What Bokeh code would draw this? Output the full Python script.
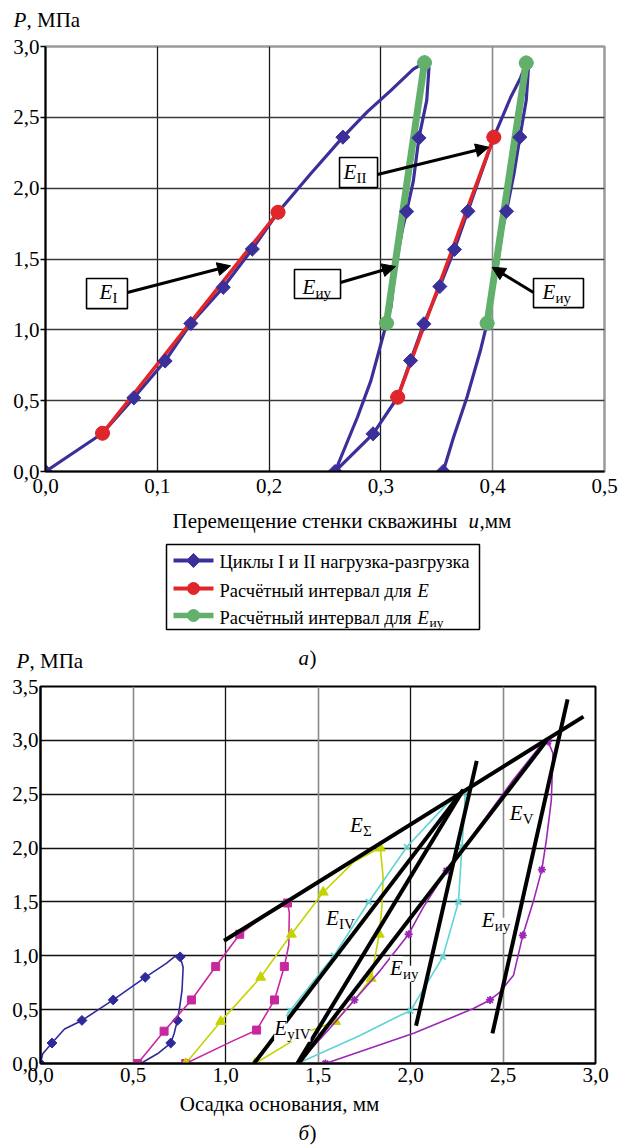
import numpy as np
from bokeh.plotting import figure
from bokeh.models import (Range1d, FixedTicker, Grid, Label, Arrow, NormalHead,
                          CustomJSTickFormatter)
from bokeh.layouts import column
from bokeh.embed import file_html
from bokeh.resources import INLINE

SERIF = "Liberation Serif"

# ================= Chart a) : borehole wall displacement =================
# full path of cycles I and II (loading / unloading), u in mm, P in MPa
cyc_u = [0, 0.051, 0.079, 0.107, 0.130, 0.159, 0.185, 0.208, 0.237, 0.266, 0.288, 0.309, 0.329, 0.339,
         0.343, 0.341, 0.334, 0.329, 0.323, 0.319, 0.313, 0.309, 0.305, 0.300, 0.291, 0.279, 0.259,
         0.293, 0.315, 0.3265, 0.3384, 0.3527, 0.3658, 0.3778, 0.401, 0.416, 0.425, 0.430,
         0.432, 0.430, 0.4243, 0.419, 0.4123, 0.4085, 0.404, 0.395, 0.389, 0.377, 0.365, 0.3557]
cyc_p = [0, 0.27, 0.52, 0.78, 1.045, 1.30, 1.57, 1.83, 2.10, 2.36, 2.54, 2.69, 2.84, 2.886,
         2.85, 2.62, 2.355, 2.05, 1.835, 1.70, 1.44, 1.16, 1.047, 0.90, 0.64, 0.383, 0.0,
         0.266, 0.524, 0.783, 1.042, 1.306, 1.567, 1.837, 2.36, 2.64, 2.78, 2.884,
         2.85, 2.62, 2.36, 2.10, 1.837, 1.70, 1.44, 1.047, 0.854, 0.524, 0.242, 0.0]
# measured points (diamond markers)
pts_u = [0, 0.051, 0.079, 0.107, 0.130, 0.159, 0.185, 0.208, 0.266, 0.339,
         0.334, 0.323, 0.305, 0.259,
         0.293, 0.315, 0.3265, 0.3384, 0.3527, 0.3658, 0.3778, 0.401, 0.430,
         0.4243, 0.4123, 0.395, 0.3557]
pts_p = [0, 0.27, 0.52, 0.78, 1.045, 1.30, 1.57, 1.83, 2.36, 2.886,
         2.355, 1.835, 1.047, 0.0,
         0.266, 0.524, 0.783, 1.042, 1.306, 1.567, 1.837, 2.36, 2.884,
         2.36, 1.837, 1.047, 0.0]
# calculation interval for E (cycle I and cycle II)
e1_u = [0.051, 0.208]
e1_p = [0.27, 1.83]
e2_u = [0.315, 0.401]
e2_p = [0.524, 2.36]
# calculation interval for E_iu (two unloading branches)
eiu1_u = [0.305, 0.339]
eiu1_p = [1.047, 2.886]
eiu2_u = [0.395, 0.430]
eiu2_p = [1.047, 2.884]

a_xticks = [0, 0.1, 0.2, 0.3, 0.4, 0.5]
a_yticks = [0, 0.5, 1.0, 1.5, 2.0, 2.5, 3.0]

# ================= Chart b) : foundation settlement =================
c1_x = [0, 0.012, 0.062, 0.13, 0.224, 0.393, 0.566, 0.68, 0.735, 0.755, 0.771, 0.765, 0.752, 0.740, 0.722, 0.704, 0.632, 0.542]
c1_y = [0, 0.09, 0.19, 0.32, 0.40, 0.59, 0.80, 0.93, 1.005, 0.99, 0.894, 0.678, 0.52, 0.40, 0.276, 0.19, 0.09, 0.0]
c1_mx = [0, 0.062, 0.224, 0.393, 0.566, 0.755, 0.740, 0.704]
c1_my = [0, 0.19, 0.40, 0.59, 0.80, 0.99, 0.40, 0.19]

c2_x = [0.525, 0.668, 0.816, 0.947, 1.077, 1.20, 1.335, 1.345, 1.342, 1.318, 1.265, 1.168, 1.04, 0.785]
c2_y = [0, 0.30, 0.59, 0.90, 1.20, 1.36, 1.49, 1.40, 1.10, 0.90, 0.59, 0.31, 0.21, 0]
c2_mx = [0.525, 0.668, 0.816, 0.947, 1.077, 1.335, 1.318, 1.265, 1.168, 0.785]
c2_my = [0, 0.30, 0.59, 0.90, 1.20, 1.49, 0.90, 0.59, 0.31, 0]

c3_x = [0.785, 0.974, 1.19, 1.356, 1.528, 1.692, 1.80, 1.837, 1.852, 1.845, 1.831, 1.787, 1.71, 1.595, 1.45, 1.16]
c3_y = [0, 0.39, 0.80, 1.20, 1.59, 1.87, 1.97, 2.0, 1.73, 1.45, 1.20, 0.79, 0.62, 0.39, 0.30, 0]
c3_mx = [0.785, 0.974, 1.19, 1.356, 1.528, 1.837, 1.831, 1.787, 1.595, 1.16]
c3_my = [0, 0.39, 0.80, 1.20, 1.59, 2.0, 1.20, 0.79, 0.39, 0]

c4_x = [1.16, 1.349, 1.586, 1.774, 1.98, 2.197, 2.296, 2.29, 2.278, 2.259, 2.175, 2.087, 2.0, 1.943, 1.727, 1.39]
c4_y = [0, 0.49, 1.00, 1.50, 2.01, 2.41, 2.52, 2.30, 2.01, 1.50, 0.99, 0.74, 0.49, 0.446, 0.26, 0]
c4_mx = [1.349, 1.586, 1.774, 1.98, 2.296, 2.278, 2.259, 2.175, 2.0]
c4_my = [0.49, 1.00, 1.50, 2.01, 2.52, 2.01, 1.50, 0.99, 0.49]

c5_x = [1.39, 1.55, 1.697, 1.835, 1.99, 2.069, 2.195, 2.375, 2.554, 2.698, 2.744, 2.77, 2.761, 2.734,
        2.71, 2.665, 2.607, 2.557, 2.482, 2.43, 2.34, 2.017, 1.54]
c5_y = [0, 0.30, 0.59, 0.86, 1.20, 1.45, 1.79, 2.21, 2.63, 2.94, 2.99, 2.88, 2.44, 2.07,
        1.80, 1.51, 1.19, 0.82, 0.66, 0.59, 0.51, 0.28, 0]
c5_mx = [1.697, 1.99, 2.195, 2.744, 2.71, 2.607, 2.43, 1.54]
c5_my = [0.59, 1.20, 1.79, 2.99, 1.80, 1.19, 0.59, 0]

# modulus (secant / tangent) lines
tan_x0 = [0.992, 1.154, 1.388, 1.395, 2.03, 2.443]
tan_y0 = [1.14, 0.0, 0.0, 0.0, 0.35, 0.28]
tan_x1 = [2.935, 2.285, 2.285, 2.737, 2.358, 2.849]
tan_y1 = [3.22, 2.54, 2.54, 3.0, 2.81, 3.38]

b_xticks = [0, 0.5, 1.0, 1.5, 2.0, 2.5, 3.0]
b_yticks = [0, 0.5, 1.0, 1.5, 2.0, 2.5, 3.0, 3.5]

BLUE = "#3b2f9a"
RED = "#e0262a"
GREEN = "#62b06c"
C1 = "#2f2a9a"
C2 = "#c8289e"
C3 = "#c5d300"
C4 = "#5fd4d4"
C5 = "#9c27b5"

FMT = CustomJSTickFormatter(code="return tick.toFixed(1).replace('.', ',');")
W = 634
KA = 1 / 141.7     # chart a: P units per pixel
KB = 1 / 107.7     # chart b: P units per pixel
KS = -1.0          # page-pixel figures (y grows downward)


def lab(p, x, y, text, k, size=21, style="normal", align="left", bg=None):
    # baseline correction: the rendered alphabetic baseline sits ~0.25em low
    yy = y + 0.25 * size * k
    p.add_layout(Label(x=x, y=yy, text=text, text_font=SERIF, text_font_size=f"{size}px",
                       text_font_style=style, text_align=align, text_baseline="alphabetic",
                       text_color="black", background_fill_color=bg))


def elabel(p, x, y, sub, dx, k, bg=None):
    lab(p, x, y, "E", k, 21, "italic", bg=bg)
    lab(p, x + dx, y - 4 * k, sub, k, 15, "normal", bg=bg)


def blank(top, bottom):
    """figure whose data coordinates equal the page pixel coordinates"""
    p = figure(frame_width=W, frame_height=bottom - top, x_range=Range1d(0, W),
               y_range=Range1d(bottom, top), output_backend="svg", toolbar_location=None,
               min_border=0, min_border_left=0, min_border_right=0, min_border_top=0,
               min_border_bottom=0, x_axis_location=None, y_axis_location=None,
               frame_align=False)
    p.grid.visible = False
    p.outline_line_color = None
    p.background_fill_color = "white"
    p.border_fill_color = "white"
    return p


def style_axes(p, xticks, yticks, xt_out, yt_out, xstand, ystand):
    p.xaxis.ticker = FixedTicker(ticks=xticks)
    p.yaxis.ticker = FixedTicker(ticks=yticks)
    for ax in (p.xaxis, p.yaxis):
        ax.formatter = FMT
        ax.major_label_text_font = SERIF
        ax.major_label_text_font_size = "21px"
        ax.major_label_text_color = "black"
        ax.axis_line_color = "black"
        ax.axis_line_width = 2
        ax.major_tick_line_color = "black"
        ax.major_tick_line_width = 1.5
        ax.major_tick_in = 0
        ax.minor_tick_line_color = None
    p.xaxis.major_tick_out = xt_out
    p.yaxis.major_tick_out = yt_out
    p.xaxis.major_label_standoff = xstand
    p.yaxis.major_label_standoff = ystand


# ---------------- header (P, MPa of chart a) ----------------
pH = blank(0, 31)
lab(pH, 13, 25, "P", KS, 21, "italic")
lab(pH, 26, 25, ", МПа", KS, 21)

# ---------------- figure a ----------------
pA = figure(frame_width=559, frame_height=425, x_range=Range1d(0, 0.5), y_range=Range1d(0, 3.0),
            output_backend="svg", toolbar_location=None, frame_align=False,
            min_border_left=45, min_border_right=30, min_border_top=15, min_border_bottom=34)
pA.background_fill_color = "white"
pA.border_fill_color = "white"
style_axes(pA, a_xticks, a_yticks, 0, 5, 7, 1)
pA.xgrid.ticker = FixedTicker(ticks=[0.1, 0.2, 0.3])
pA.xgrid.grid_line_color = "#1a1a1a"
pA.xgrid.grid_line_width = 1.3
pA.add_layout(Grid(dimension=0, ticker=FixedTicker(ticks=[0.4]), grid_line_color="#8a8a8a", grid_line_width=1.6))
pA.ygrid.ticker = FixedTicker(ticks=[0.5, 1.0, 1.5, 2.0, 2.5])
pA.ygrid.grid_line_color = "#3a3a3a"
pA.ygrid.grid_line_width = 1.3
pA.outline_line_color = "#9a9a9a"
pA.outline_line_width = 2.5

pA.line(cyc_u, cyc_p, line_color=BLUE, line_width=3.2)
pA.line(e1_u, e1_p, line_color=RED, line_width=3.6)
pA.line(e2_u, e2_p, line_color=RED, line_width=3.6)
pA.line(eiu1_u, eiu1_p, line_color=GREEN, line_width=7)
pA.line(eiu2_u, eiu2_p, line_color=GREEN, line_width=7)
pA.scatter(pts_u, pts_p, marker="square", angle=np.pi / 4, size=10, fill_color=BLUE, line_color=BLUE)
pA.scatter(e1_u + e2_u, e1_p + e2_p, marker="circle", size=14, fill_color=RED, line_color=RED)
pA.scatter(eiu1_u + eiu2_u, eiu1_p + eiu2_p, marker="circle", size=14, fill_color=GREEN, line_color=GREEN)

# boxed annotations
pA.quad(left=[0.0367, 0.263, 0.2227, 0.4365], right=[0.0733, 0.297, 0.2639, 0.4812],
        bottom=[1.150, 2.004, 1.221, 1.157], top=[1.362, 2.216, 1.4256, 1.362],
        fill_color="white", line_color="black", line_width=1.6)
dxA = 13 / 1118
elabel(pA, 0.0483, 1.228, "I", dxA, KA)
elabel(pA, 0.2665, 2.075, "II", dxA, KA)
elabel(pA, 0.2299, 1.263, "иу", dxA, KA)
elabel(pA, 0.4445, 1.228, "иу", dxA, KA)
for (xs, ys, xe, ye) in [(0.0733, 1.263, 0.1655, 1.452), (0.297, 2.096, 0.3965, 2.289),
                         (0.2639, 1.334, 0.313, 1.447), (0.4365, 1.263, 0.3995, 1.442)]:
    pA.add_layout(Arrow(end=NormalHead(size=13, fill_color="black", line_color="black", line_width=1),
                        x_start=xs, y_start=ys, x_end=xe, y_end=ye, line_width=3, line_color="black"))

# ---------------- middle: axis title a, legend, "a)", P of chart b ----------------
pL = blank(505, 674)
lab(pL, 172, 526, "Перемещение стенки скважины", KS, 21)
lab(pL, 468, 526, "u", KS, 21, "italic")
lab(pL, 479, 526, ",мм", KS, 21)
pL.quad(left=[166], right=[479], bottom=[629], top=[544], fill_color="white", line_color="black", line_width=1.5)
rows_y = [560, 588, 615]
pL.line([173, 213], [rows_y[0]] * 2, line_color=BLUE, line_width=4)
pL.scatter([193], [rows_y[0]], marker="square", angle=np.pi / 4, size=10, fill_color=BLUE, line_color=BLUE)
pL.line([173, 213], [rows_y[1]] * 2, line_color=RED, line_width=4)
pL.scatter([193], [rows_y[1]], marker="circle", size=12, fill_color=RED, line_color=RED)
pL.line([173, 213], [rows_y[2]] * 2, line_color=GREEN, line_width=5.5)
pL.scatter([193], [rows_y[2]], marker="circle", size=12, fill_color=GREEN, line_color=GREEN)
lab(pL, 219, 566, "Циклы I и II нагрузка-разгрузка", KS, 18.5)
lab(pL, 219, 595, "Расчётный интервал для", KS, 18.5)
lab(pL, 417, 595, "E", KS, 18.5, "italic")
lab(pL, 219, 622, "Расчётный интервал для", KS, 18.5)
lab(pL, 417, 622, "E", KS, 18.5, "italic")
lab(pL, 429, 625, "иу", KS, 13.5)
lab(pL, 298, 663, "а", KS, 21, "italic")
lab(pL, 309, 663, ")", KS, 21)
lab(pL, 16, 666, "P", KS, 21, "italic")
lab(pL, 29, 666, ", МПа", KS, 21)

# ---------------- figure b ----------------
pB = figure(frame_width=555, frame_height=377, x_range=Range1d(0, 3.0), y_range=Range1d(0, 3.5),
            output_backend="svg", toolbar_location=None, frame_align=False,
            min_border_left=40, min_border_right=39, min_border_top=12, min_border_bottom=29)
pB.background_fill_color = "white"
pB.border_fill_color = "white"
style_axes(pB, b_xticks, b_yticks, 0, 0, 4, 2)
pB.xgrid.ticker = FixedTicker(ticks=[1.0, 2.0])
pB.xgrid.grid_line_color = "#111111"
pB.xgrid.grid_line_width = 1.3
pB.add_layout(Grid(dimension=0, ticker=FixedTicker(ticks=[0.5, 1.5, 2.5]), grid_line_color="#8a8a8a", grid_line_width=1.6))
pB.ygrid.ticker = FixedTicker(ticks=[0.5, 1.0, 1.5, 2.0, 2.5, 3.0])
pB.ygrid.grid_line_color = "#111111"
pB.ygrid.grid_line_width = 1.3
pB.outline_line_color = "black"
pB.outline_line_width = 2

pB.line(c1_x, c1_y, line_color=C1, line_width=1.6)
pB.scatter(c1_mx, c1_my, marker="square", angle=np.pi / 4, size=7, fill_color=C1, line_color=C1)
pB.line(c2_x, c2_y, line_color=C2, line_width=1.6)
pB.scatter(c2_mx, c2_my, marker="square", size=8, fill_color=C2, line_color=C2)
pB.line(c3_x, c3_y, line_color=C3, line_width=1.6)
pB.scatter(c3_mx, c3_my, marker="triangle", size=10, fill_color=C3, line_color=C3)
pB.line(c4_x, c4_y, line_color=C4, line_width=1.6)
pB.scatter(c4_mx, c4_my, marker="x", size=8, line_color=C4, line_width=1.8)
pB.line(c5_x, c5_y, line_color=C5, line_width=1.6)
pB.scatter(c5_mx, c5_my, marker="asterisk", size=8, line_color=C5, line_width=1.8)
pB.segment(tan_x0, tan_y0, tan_x1, tan_y1, line_color="black", line_width=4)

dxB = 13 / 185.3
elabel(pB, 1.673, 2.163, "Σ", dxB, KB)
elabel(pB, 1.543, 1.30, "IV", dxB, KB)
elabel(pB, 1.889, 0.836, "иу", dxB, KB, bg="white")
elabel(pB, 1.263, 0.279, "уIV", dxB, KB, bg="white")
elabel(pB, 2.536, 2.275, "V", dxB, KB)
elabel(pB, 2.385, 1.281, "иу", dxB, KB, bg="white")

# ---------------- footer: axis title b, "б)" ----------------
pF = blank(1092, 1145)
lab(pF, 279, 1109, "Осадка основания, мм", KS, 21, align="center")
lab(pF, 298, 1138, "б", KS, 21, "italic")
lab(pF, 309, 1138, ")", KS, 21)

layout = column(pH, pA, pL, pB, pF, spacing=0)
open("out.html", "w").write(file_html(layout, INLINE))
